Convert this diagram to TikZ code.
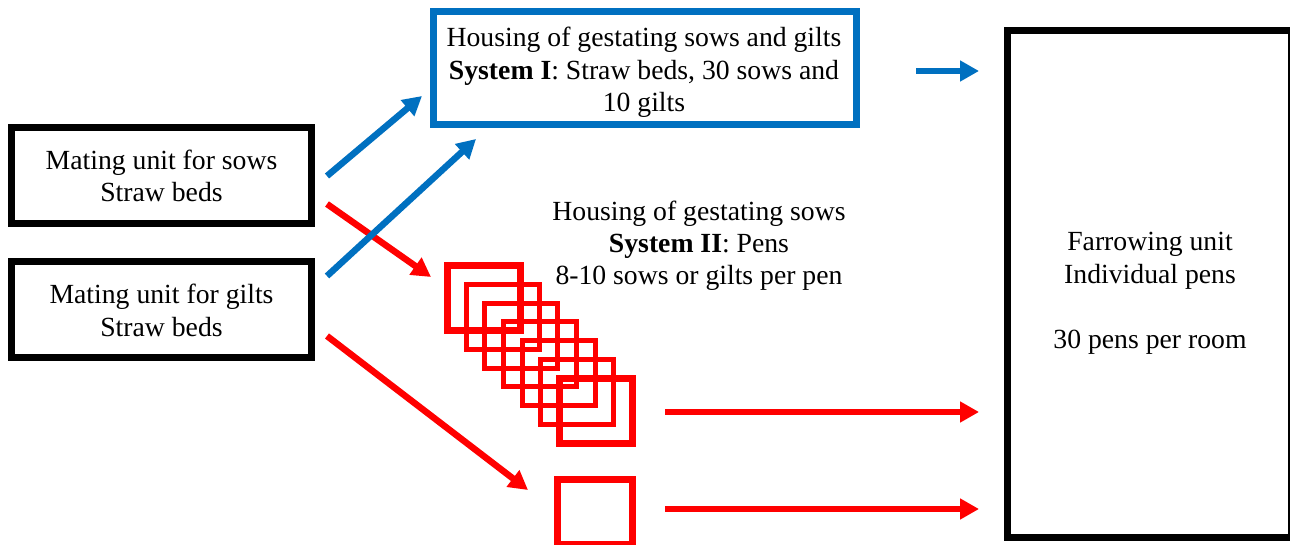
\documentclass[tikz,border=0pt]{standalone}
\usepackage{fontspec}
\setmainfont{Liberation Serif}
\usetikzlibrary{arrows.meta}
\definecolor{oblue}{RGB}{0,112,192}
\definecolor{ored}{RGB}{255,0,0}
\begin{document}
\begin{tikzpicture}[x=1pt,y=-1pt,
  txt/.style={inner sep=0pt, outer sep=0pt, align=center, anchor=base,
    font=\fontsize{27.7pt}{32.5pt}\selectfont},
  unitbox/.style={draw=black, line width=7pt, rectangle, inner sep=0pt, outer sep=0pt},
  sysbox/.style={draw=oblue, line width=7pt, rectangle, inner sep=0pt, outer sep=0pt},
  pen/.style={draw=ored, line width=5pt, rectangle, inner sep=0pt, outer sep=0pt,
    minimum width=73pt, minimum height=65pt},
  thickpen/.style={pen, line width=7pt},
  barrow/.style={draw=oblue, line width=6.5pt, -{Triangle[length=19pt,width=20pt]}},
  rarrow/.style={draw=ored, line width=6.5pt, -{Triangle[length=19pt,width=20pt]}}
]
\useasboundingbox (0,0) rectangle (1290,545);
\clip (0,0) rectangle (1290,545);

% boxes
\node[unitbox, minimum width=300pt, minimum height=96pt] (sows) at (161.5,175.5) {};
\node[unitbox, minimum width=300pt, minimum height=96pt] (gilts) at (161.5,309.5) {};
\node[sysbox, minimum width=423pt, minimum height=113pt] (sys1) at (645,68) {};
\node[unitbox, minimum width=284pt, minimum height=507pt] (farrow) at (1149.5,284) {};

% pens (system II)
\foreach \i in {1,...,5}
  \node[pen] (pen\i) at ({484+18.67*\i},{298+18.83*\i}) {};
\node[thickpen] (pen0) at (484,298) {};
\node[thickpen] (pen6) at ({484+18.67*6},{298+18.83*6}) {};
\node[thickpen, minimum width=75pt] (single) at (594.5,511.5) {};

% texts (anchored at the baseline of the last line)
\node[txt] (tsows) at (161.5,202) {Mating unit for sows\\Straw beds};
\node[txt] (tgilts) at (161.5,336) {Mating unit for gilts\\Straw beds};
\node[txt] (tsys1) at (644,112) {Housing of gestating sows and gilts\\\textbf{System I}: Straw beds, 30 sows and\\10 gilts};
\node[txt] (tsys2) at (699,285) {Housing of gestating sows\\\textbf{System II}: Pens\\8-10 sows or gilts per pen};
\node[txt] (tfar) at (1150,348) {Farrowing unit\\Individual pens\\[32.5pt]30 pens per room};

% arrow end points
\coordinate (b1s) at (327,176); \coordinate (b1e) at (422,96);
\coordinate (b2s) at (327,276); \coordinate (b2e) at (476,139);
\coordinate (r1s) at (327,204); \coordinate (r1e) at (431,277);
\coordinate (r2s) at (327,336); \coordinate (r2e) at (528,490);
\coordinate (b3s) at (916,71);  \coordinate (b3e) at (979,71);
\coordinate (r3s) at (665,412); \coordinate (r3e) at (979,412);
\coordinate (r4s) at (665,509); \coordinate (r4e) at (979,509);

\draw[barrow] (b1s) -- (b1e);
\draw[rarrow] (r1s) -- (r1e);
\draw[barrow] (b2s) -- (b2e);
\draw[rarrow] (r2s) -- (r2e);
\draw[barrow] (b3s) -- (b3e);
\draw[rarrow] (r3s) -- (r3e);
\draw[rarrow] (r4s) -- (r4e);
\end{tikzpicture}
\end{document}
